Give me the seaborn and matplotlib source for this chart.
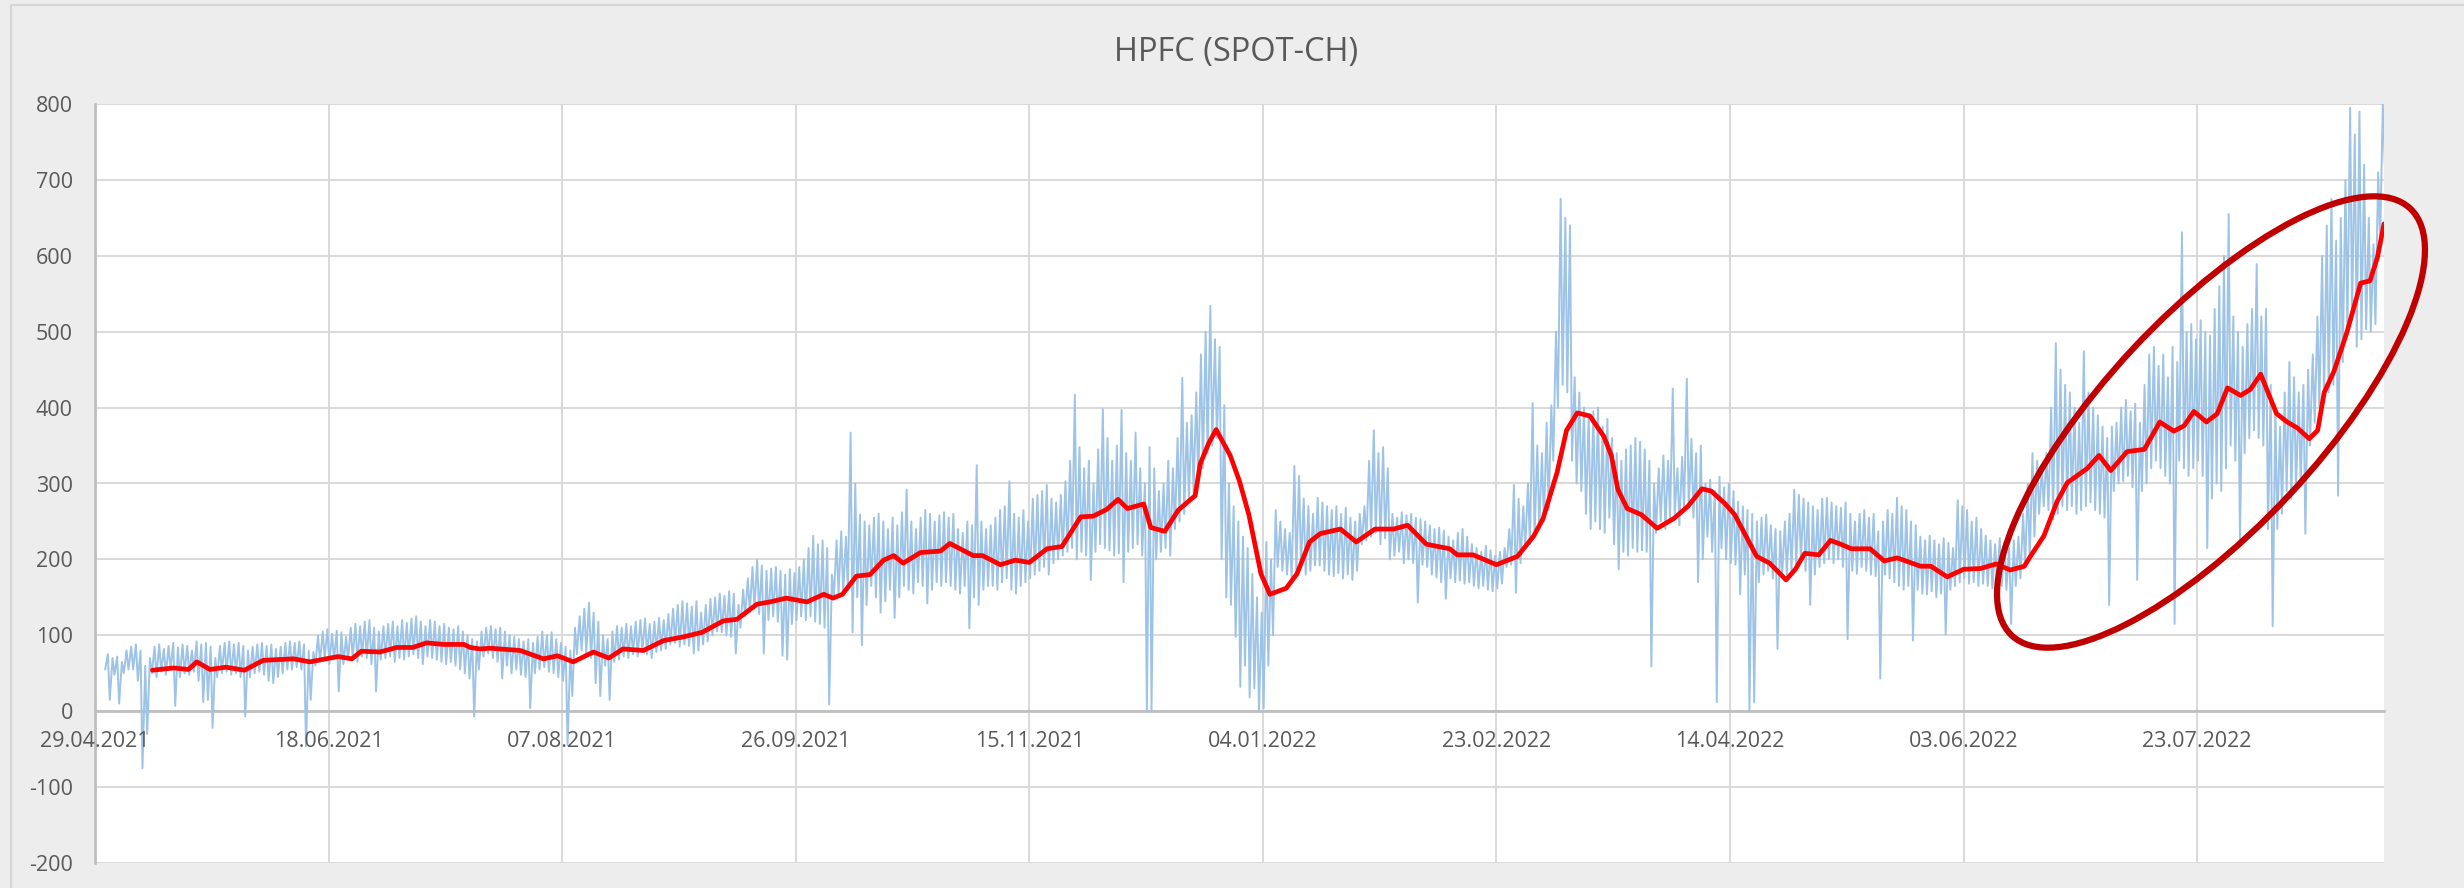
import numpy as np
import pandas as pd
import matplotlib
matplotlib.use("Agg")
import matplotlib.pyplot as plt
from matplotlib.patches import Ellipse
from matplotlib.lines import Line2D
import seaborn as sns

# ---------------- data ----------------
title = "HPFC (SPOT-CH)"
axis_start = "2021-04-29"
axis_days = 490
tick_labels = ["29.04.2021", "18.06.2021", "07.08.2021", "26.09.2021", "15.11.2021",
               "04.01.2022", "23.02.2022", "14.04.2022", "03.06.2022", "23.07.2022"]
y_ticks = [-200, -100, 0, 100, 200, 300, 400, 500, 600, 700, 800]

# daily spot price highs / lows (EUR/MWh), from 01.05.2021 to 31.08.2022
spot_start = "2021-05-01"
spot_high = [
    75, 70, 72, 65, 80, 85, 88, 80, 60, 70,
    85, 88, 82, 86, 90, 84, 88, 86, 80, 92,
    88, 90, 85, 70, 86, 90, 92, 88, 90, 86,
    80, 85, 88, 90, 86, 88, 82, 85, 90, 92,
    90, 92, 88, 80, 78, 100, 105, 108, 102, 106,
    104, 98, 110, 115, 112, 118, 120, 110, 105, 112,
    115, 118, 112, 120, 116, 122, 125, 118, 112, 120,
    118, 112, 115, 110, 108, 112, 105, 100, 95, 92,
    105, 110, 112, 108, 110, 105, 100, 98, 95, 92,
    95, 90, 98, 105, 100, 104, 95, 90, 85, 80,
    110, 125, 135, 143, 130, 118, 100, 95, 105, 112,
    110, 115, 112, 118, 120, 122, 115, 118, 123, 120,
    128, 135, 140, 145, 142, 138, 145, 130, 140, 148,
    150, 155, 152, 158, 155, 140, 160, 175, 190, 199,
    192, 185, 188, 190, 185, 180, 187, 182, 190, 200,
    215, 231, 220, 225, 215, 180, 225, 237, 230, 367,
    300, 259, 250, 245, 255, 260, 250, 240, 255, 245,
    262, 292, 250, 240, 255, 265, 260, 250, 258, 262,
    255, 260, 240, 235, 250, 245, 324, 250, 240, 245,
    255, 265, 270, 303, 260, 255, 265, 250, 280, 285,
    290, 298, 280, 275, 285, 303, 330, 417, 348, 320,
    330, 300, 345, 398, 360, 330, 350, 397, 340, 330,
    367, 320, 300, 348, 320, 290, 300, 330, 320, 360,
    439, 380, 390, 420, 470, 500, 534, 490, 480, 403,
    300, 270, 250, 230, 215, 181, 150, 130, 223, 200,
    265, 250, 240, 235, 323, 310, 280, 270, 260, 281,
    275, 270, 265, 270, 260, 268, 255, 250, 260, 270,
    330, 370, 340, 348, 320, 260, 255, 262, 258, 260,
    255, 253, 250, 245, 240, 242, 238, 230, 225, 235,
    240, 230, 220, 215, 210, 218, 212, 205, 210, 215,
    240, 298, 280, 270, 300, 406, 350, 340, 380, 403,
    500, 675, 650, 640, 440, 420, 400, 390, 395, 400,
    375, 385, 360, 340, 330, 345, 350, 360, 355, 345,
    330, 300, 320, 337, 330, 425, 320, 335, 438, 359,
    340, 350, 300, 305, 290, 309, 295, 300, 290, 276,
    270, 265, 260, 250, 255, 259, 245, 240, 237, 250,
    260, 292, 285, 280, 275, 270, 265, 280, 281, 275,
    270, 268, 275, 260, 250, 260, 265, 255, 260, 237,
    250, 265, 260, 281, 270, 265, 250, 245, 230, 225,
    231, 225, 220, 228, 222, 215, 278, 270, 265, 250,
    255, 240, 231, 225, 220, 228, 222, 215, 225, 230,
    260, 300, 340, 330, 320, 340, 400, 485, 450, 430,
    420, 400, 380, 474, 420, 400, 390, 375, 360, 375,
    380, 400, 410, 395, 405, 380, 430, 470, 480, 455,
    470, 440, 480, 460, 631, 500, 510, 490, 515, 500,
    495, 530, 560, 600, 655, 520, 500, 480, 510, 530,
    589, 520, 530, 430, 400, 375, 420, 460, 440, 420,
    430, 450, 470, 520, 600, 640, 675, 620, 650, 700,
    795, 760, 790, 720, 650, 615, 710, 800, 760,
]
spot_low = [
    55, 15, 48, 10, 50, 55, 55, 40, -75, -30,
    50, 45, 52, 48, 55, 7, 45, 50, 48, 52,
    40, 12, 15, -22, 45, 50, 52, 48, 50, 45,
    -7, 45, 50, 52, 48, 40, 37, 45, 50, 55,
    55, 58, 55, -46, 15, 60, 65, 70, 62, 68,
    26, 62, 68, 70, 65, 72, 70, 62, 26, 68,
    70, 72, 65, 70, 68, 72, 75, 70, 62, 72,
    70, 68, 65, 62, 65, 60, 55, 50, 43, -7,
    55, 72, 76, 70, 65, 43, 60, 50, 55, 48,
    45, 4, 50, 55, 58, 52, 50, 45, 40, -45,
    20, 75, 80, 76, 70, 37, 20, 60, 15, 65,
    68, 72, 70, 75, 72, 78, 75, 70, 78, 80,
    82, 88, 90, 85, 88, 86, 76, 80, 88, 92,
    100, 105, 104, 100, 98, 76, 110, 125, 130, 135,
    128, 76, 120, 125, 118, 73, 68, 115, 120, 125,
    120, 125, 118, 115, 110, 9, 150, 155, 154, 160,
    104, 150, 87, 140, 165, 150, 130, 145, 160, 123,
    150, 165, 160, 155, 170, 165, 142, 160, 170, 165,
    170, 165, 160, 155, 165, 109, 150, 140, 160, 165,
    165, 160, 170, 175, 160, 155, 165, 170, 175, 180,
    185, 190, 180, 195, 200, 205, 210, 215, 200, 210,
    205, 173, 210, 220, 215, 212, 205, 208, 170, 210,
    215, 220, 205, 0, 0, 200, 210, 215, 205, 240,
    250, 260, 280, 290, 300, 320, 340, 350, 360, 200,
    150, 140, 98, 32, 60, 18, 30, 0, 4, 60,
    100, 190, 185, 180, 175, 185, 190, 180, 185, 192,
    192, 185, 180, 178, 182, 175, 180, 173, 185, 220,
    225, 230, 235, 220, 228, 200, 205, 210, 195, 200,
    195, 143, 193, 190, 180, 176, 170, 148, 175, 170,
    172, 168, 170, 165, 162, 165, 160, 158, 162, 168,
    190, 193, 156, 195, 215, 220, 230, 240, 250, 265,
    330, 400, 430, 420, 330, 300, 290, 260, 240, 250,
    240, 235, 255, 220, 187, 210, 205, 215, 210, 212,
    210, 59, 235, 250, 240, 255, 260, 245, 265, 270,
    255, 170, 200, 230, 210, 12, 215, 200, 195, 193,
    154, 180, 1, 12, 170, 180, 185, 175, 82, 178,
    180, 185, 190, 198, 185, 140, 180, 190, 195, 200,
    195, 200, 190, 95, 185, 181, 190, 185, 180, 178,
    43, 180, 175, 170, 165, 160, 165, 93, 160, 155,
    154, 158, 150, 155, 101, 160, 165, 170, 175, 168,
    170, 165, 168, 165, 162, 170, 165, 160, 115, 165,
    175, 190, 200, 230, 260, 270, 265, 253, 260, 270,
    265, 270, 260, 265, 270, 275, 265, 260, 255, 140,
    290, 300, 303, 310, 295, 173, 290, 300, 320, 330,
    320, 310, 300, 115, 330, 320, 310, 320, 330, 310,
    215, 280, 300, 290, 320, 350, 330, 223, 340, 360,
    370, 360, 350, 240, 112, 240, 260, 290, 280, 290,
    300, 234, 350, 380, 400, 410, 420, 430, 284, 460,
    500, 515, 480, 490, 503, 500, 510, 620, 720,
]

# moving average (red line): day offset from 29.04.2021, value
ma_day = [12.3, 16.8, 20, 21.8, 24.6, 28, 32, 36, 42.5, 46, 52, 55, 57, 61, 64.6, 68, 71, 74.6,
          79, 80.3, 82.4, 84.6, 91, 96, 99, 102.4, 106.7, 110, 113, 117.4, 121.7, 126, 130,
          134.5, 137.4, 141.7, 144.5, 148, 152.4, 156, 158, 160, 163, 165.9, 168.8, 171, 173,
          176.7, 181, 183, 188, 190, 193.8, 197, 200, 203.8, 207, 211, 213.7, 216.6, 219, 221,
          224.5, 226, 229, 231.9, 235.5, 236.6, 238.4, 240, 243, 245, 247, 249.6, 251.5, 255,
          257.3, 260, 262.3, 266.6, 270, 274, 278, 281, 285, 290, 291.6, 295, 300, 304.5, 308,
          310, 313, 315, 317.3, 320, 323, 324.6, 326, 328, 331, 334.4, 338, 341, 344, 346, 349,
          351, 355.7, 358.5, 362, 364, 366, 369, 371.5, 373.7, 376, 380, 383, 385.8, 390.8,
          393, 396.5, 400, 403.6, 407, 410, 413, 414.3, 417.2, 420, 422.2, 426.5, 429, 431.5,
          435, 438.7, 442, 445, 447.2, 449.3, 452, 454.3, 456.5, 459.3, 461.4, 463.6, 467,
          469.3, 471.5, 474, 475.8, 477.2, 479.3, 482, 485, 487, 488.6, 490]
ma_value = [54, 57, 55, 65, 55, 58, 54, 67, 69, 65, 72, 69, 79, 78, 84, 84, 90, 88,
            88, 84, 82, 83, 80, 69, 73, 65, 78, 70, 82, 80, 93, 98, 104,
            119, 121, 141, 144, 149, 144, 154, 149, 154, 178, 180, 199, 205, 195,
            209, 211, 221, 205, 205, 193, 199, 196, 214, 217, 256, 257, 266, 279, 267,
            273, 242, 237, 265, 284, 326, 353, 371, 337, 303, 259, 181, 154, 162,
            181, 223, 234, 240, 223, 240, 240, 245, 220, 214, 206, 206, 193, 204, 231,
            254, 315, 370, 393, 389, 362, 337, 292, 267, 259, 241, 254, 270, 293, 290, 273,
            259, 204, 195, 173, 187, 208, 206, 225, 220, 214, 214, 198, 202, 191,
            191, 177, 187, 188, 194, 186, 191, 204, 231, 276, 301, 320, 337, 317,
            342, 345, 381, 369, 376, 395, 381, 392, 426, 416, 424, 444, 392,
            381, 373, 359, 370, 420, 448, 498, 564, 567, 598, 642]

# ---------------- frames ----------------
n = min(len(spot_high), len(spot_low))
base = pd.Timestamp(spot_start)
times, prices = [], []
for i in range(n):
    day = base + pd.Timedelta(days=i)
    times += [day + pd.Timedelta(hours=4), day + pd.Timedelta(hours=18)]
    prices += [spot_low[i], spot_high[i]]
spot = pd.DataFrame({"time": times, "price": prices})

m = min(len(ma_day), len(ma_value))
t0 = pd.Timestamp(axis_start)
ma = pd.DataFrame({"time": [t0 + pd.Timedelta(days=float(d)) for d in ma_day[:m]],
                   "price": ma_value[:m]})

# ---------------- style ----------------
sns.set_theme(style="white")
plt.rcParams["font.family"] = ["Open Sans", "DejaVu Sans"]
plt.rcParams["axes.unicode_minus"] = False

W, H = 2464, 888
fig = plt.figure(figsize=(W / 100, H / 100), dpi=100, facecolor="#EDEDED")
L, R, T, B = 95, 2384, 104, 863
ax = fig.add_axes([L / W, 1 - B / H, (R - L) / W, (B - T) / H])
ax.set_facecolor("white")

sns.lineplot(data=spot, x="time", y="price", ax=ax, color="#9DC3E6", linewidth=1.4,
             estimator=None, errorbar=None, sort=False, zorder=2)
sns.lineplot(data=ma, x="time", y="price", ax=ax, color="#FF0000", linewidth=3.4,
             estimator=None, errorbar=None, sort=False, zorder=3,
             solid_joinstyle="round", solid_capstyle="round")

ax.set_xlim(t0, t0 + pd.Timedelta(days=axis_days))
ax.set_ylim(y_ticks[0], y_ticks[-1])
tick_dates = pd.to_datetime(tick_labels, format="%d.%m.%Y")
ax.set_xticks(tick_dates)
ax.set_xticklabels(tick_labels)
ax.set_yticks(y_ticks)
ax.set_yticklabels([str(v) for v in y_ticks])
ax.set_xlabel("")
ax.set_ylabel("")

# gridlines behind the data, tick labels above it
ax.grid(False)
for v in y_ticks:
    ax.axhline(v, color="#D9D9D9", linewidth=1.4, zorder=0.5)
for d in tick_dates:
    ax.axvline(d, color="#D9D9D9", linewidth=1.4, zorder=0.5)
ax.xaxis.set_zorder(5)
ax.yaxis.set_zorder(5)

for s in ["top", "right"]:
    ax.spines[s].set_visible(False)
ax.spines["left"].set_color("#BFBFBF")
ax.spines["left"].set_linewidth(2.0)
ax.spines["left"].set_zorder(1)
ax.spines["bottom"].set_position(("data", 0))
ax.spines["bottom"].set_color("#BFBFBF")
ax.spines["bottom"].set_linewidth(2.0)
ax.spines["bottom"].set_zorder(1)
ax.tick_params(axis="x", length=0, pad=14, labelsize=15.5, labelcolor="#595959")
ax.tick_params(axis="y", length=0, pad=16, labelsize=15.5, labelcolor="#595959")
if ax.get_legend() is not None:
    ax.get_legend().remove()

# title
fig.text(1236 / W, 1 - 52 / H, title, ha="center", va="center",
         fontsize=23.5, color="#595959")

# chart border (top / left)
fig.add_artist(Line2D([11 / W, 11 / W], [0, 1 - 5 / H], transform=fig.transFigure,
                      color="#D6D6D6", linewidth=1.5))
fig.add_artist(Line2D([11 / W, 1], [1 - 5 / H, 1 - 5 / H], transform=fig.transFigure,
                      color="#D6D6D6", linewidth=1.5))

# highlight ellipse (hand-drawn annotation)
ell = Ellipse((2211 / 100, (H - 422) / 100), 5.84, 2.14, angle=47,
              transform=fig.dpi_scale_trans, fill=False, edgecolor="#C00000",
              linewidth=4.5, zorder=10)
fig.add_artist(ell)

fig.savefig("out.png", dpi=100, facecolor=fig.get_facecolor())
